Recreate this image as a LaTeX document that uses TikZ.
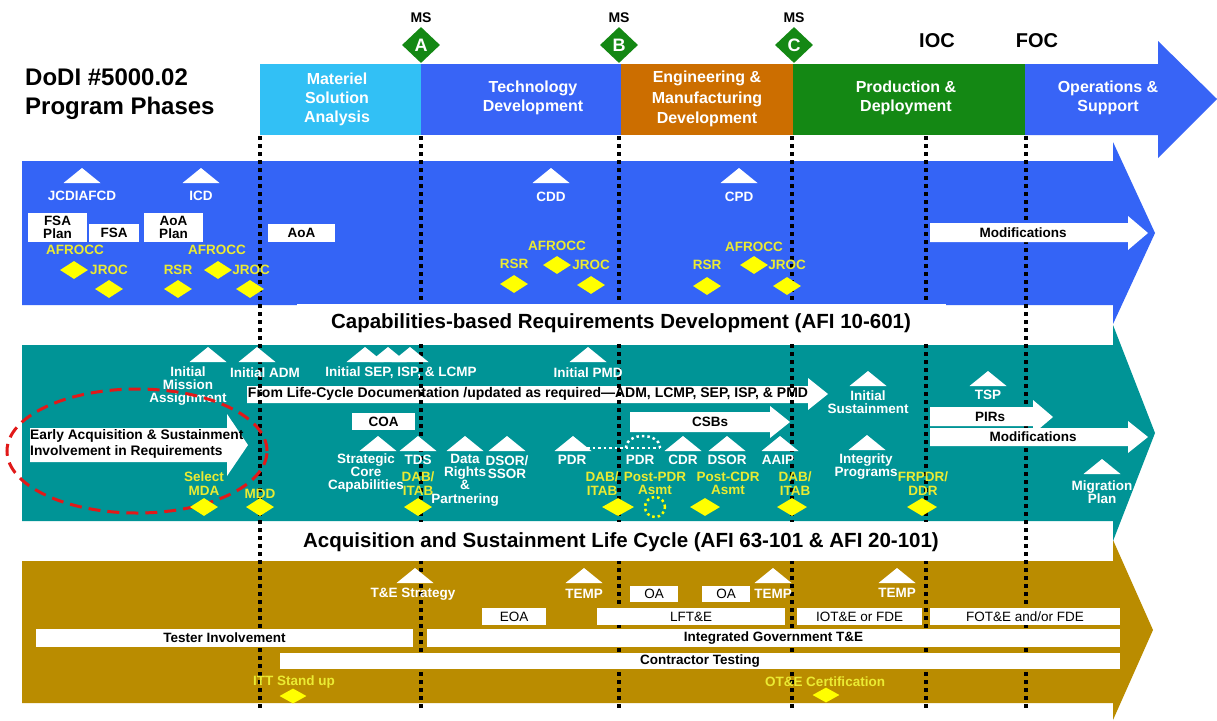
\documentclass[tikz,border=0pt]{standalone}
\usepackage{fontspec}
\setmainfont{Liberation Sans}
\usetikzlibrary{shapes.geometric}
\definecolor{phLB}{RGB}{50,192,245}
\definecolor{phB}{RGB}{56,100,246}
\definecolor{phO}{RGB}{204,110,0}
\definecolor{phG}{RGB}{20,136,20}
\definecolor{bandB}{RGB}{52,100,246}
\definecolor{bandT}{RGB}{0,148,150}
\definecolor{bandG}{RGB}{186,140,0}
\definecolor{ylwD}{RGB}{255,255,0}
\definecolor{ylwT}{RGB}{235,235,50}
\definecolor{redE}{RGB}{225,25,25}
\newcommand\tri[2]{\fill[white] ({#1-18.5},{#2+15}) -- (#1,#2) -- ({#1+18.5},{#2+15}) -- cycle;}
\newcommand\fsz[2]{\fontsize{#1}{#2}\selectfont}
\begin{document}
\begin{tikzpicture}[x=1pt,y=-1pt,
 lbl/.style={inner sep=0pt,align=center,font=\bfseries\fsz{13.5}{13.3}},
 wt/.style={lbl,text=white},
 yt/.style={lbl,text=ylwT},
 bt/.style={lbl,text=black},
 wbox/.style={fill=white,inner sep=0pt,align=center,text=black,font=\bfseries\fsz{13.5}{13.5}},
 rbox/.style={wbox,font=\fsz{13.5}{13.5}},
 ydia/.style={diamond,fill=ylwD,minimum width=28pt,minimum height=18pt,inner sep=0pt},
 msd/.style={diamond,fill=phG,minimum width=38pt,minimum height=36pt,inner sep=0pt,text=white,font=\bfseries\fsz{18}{18}},
 vdots/.style={line width=3.5pt,dash pattern=on 4pt off 4pt,black},
 phase/.style={inner sep=0pt,align=center,text=white,font=\bfseries\fsz{16}{19}},
 wdots/.style={white,line width=2.5pt,dash pattern=on 2.5pt off 3pt},
 bandtitle/.style={inner sep=0pt,font=\bfseries\fsz{20.5}{20.5}},
]
\useasboundingbox (0,0) rectangle (1217,720);
\fill[white] (0,0) rectangle (1217,720);

% ---------- bands ----------
\fill[bandG] (22,561) -- (1113,561) -- (1113,540) -- (1153,630) -- (1113,720) -- (1113,703) -- (22,703) -- cycle;
\fill[bandT] (22,345) -- (1113,345) -- (1113,325) -- (1155,433) -- (1113,541) -- (1113,521) -- (22,521) -- cycle;
\fill[bandB] (22,161) -- (1113,161) -- (1113,142) -- (1155,233) -- (1113,324) -- (1113,305) -- (22,305) -- cycle;

% ---------- phase bar ----------
\fill[phLB] (260,64) rectangle (421,135);
\fill[phB] (421,64) rectangle (621,135);
\fill[phO] (621,64) rectangle (793,135);
\fill[phG] (793,64) rectangle (1025,135);
\fill[phB] (1025,64) -- (1158,64) -- (1158,41) -- (1217,99) -- (1158,158) -- (1158,135) -- (1025,135) -- cycle;
\node[phase] (pMSA) at (337,99) {Materiel\\Solution\\Analysis};
\node[phase] (pTD) at (533,98) {Technology\\Development};
\node[phase,font=\bfseries\fsz{16}{20.5}] (pEMD) at (707,99) {Engineering \&\\Manufacturing\\Development};
\node[phase] (pPD) at (906,98) {Production \&\\Deployment};
\node[phase] (pOS) at (1108,98) {Operations \&\\Support};

\node[msd] (msA) at (421,45) {A};
\node[msd] (msB) at (619,45) {B};
\node[msd] (msC) at (794,45) {C};
\node[bt,font=\bfseries\fsz{14}{14}] (msAt) at (421,18) {MS};
\node[bt,font=\bfseries\fsz{14}{14}] (msBt) at (619,18) {MS};
\node[bt,font=\bfseries\fsz{14}{14}] (msCt) at (794,18) {MS};
\node[inner sep=0pt,font=\bfseries\fsz{20}{20}] (ioc) at (937,41) {IOC};
\node[inner sep=0pt,font=\bfseries\fsz{20}{20}] (foc) at (1037,41) {FOC};
\node[anchor=west,align=left,inner sep=0pt,font=\bfseries\fsz{24}{29}] (title) at (25,94) {DoDI \#5000.02\\Program Phases};

% ---------- blue band boxes ----------
\node[wbox,minimum width=59pt,minimum height=29pt] (fsaP) at (57.5,227.5) {FSA\\Plan};
\node[wbox,minimum width=50pt,minimum height=18pt] (fsa) at (114,233) {FSA};
\node[wbox,minimum width=59pt,minimum height=29pt] (aoaP) at (173.5,227.5) {AoA\\Plan};
\node[wbox,minimum width=67pt,minimum height=18pt] (aoa) at (301.5,233) {AoA};

% ---------- teal band white shapes ----------
\fill[white] (247,386) -- (808,386) -- (808,378) -- (828,394) -- (808,410) -- (808,403) -- (247,403) -- cycle;
\fill[white] (30,428) -- (227,428) -- (227,414) -- (248,445) -- (227,476) -- (227,462) -- (30,462) -- cycle;
\fill[white] (630,412) -- (770,412) -- (770,406) -- (790,422) -- (770,438) -- (770,432) -- (630,432) -- cycle;
\node[wbox,minimum width=63pt,minimum height=17pt] (coa) at (383.5,421.5) {COA};

% ---------- dotted milestone lines ----------
\coordinate (t1) at (260,136); \coordinate (b1) at (260,708);
\coordinate (t2) at (421,136); \coordinate (b2) at (421,708);
\coordinate (t3) at (619,136); \coordinate (b3) at (619,708);
\coordinate (t4) at (792,136); \coordinate (b4) at (792,708);
\coordinate (t5) at (926,136); \coordinate (b5) at (926,708);
\coordinate (t6) at (1026,136); \coordinate (b6) at (1026,708);
\draw[vdots] (t1) -- (b1);
\draw[vdots] (t2) -- (b2);
\draw[vdots] (t3) -- (b3);
\draw[vdots] (t4) -- (b4);
\draw[vdots] (t5) -- (b5);
\draw[vdots] (t6) -- (b6);

% ---------- band title boxes ----------
\fill[white] (297,303.5) rectangle (946,344);
\fill[white] (280,522) rectangle (963,560.5);
\node[bandtitle] (capT) at (621,323) {Capabilities-based Requirements Development (AFI 10-601)};
\node[bandtitle] (acqT) at (621,542) {Acquisition and Sustainment Life Cycle (AFI 63-101 \& AFI 20-101)};

% ---------- right-side arrows ----------
\fill[white] (930,223) -- (1128,223) -- (1128,216) -- (1148,233) -- (1128,250) -- (1128,242) -- (930,242) -- cycle;
\node[bt] (modB) at (1023,233) {Modifications};
\fill[white] (930,407) -- (1033,407) -- (1033,400) -- (1053,417) -- (1033,434) -- (1033,426) -- (930,426) -- cycle;
\node[bt] (pirs) at (990,417) {PIRs};
\fill[white] (930,428) -- (1128,428) -- (1128,421) -- (1148,437) -- (1128,453) -- (1128,446) -- (930,446) -- cycle;
\node[bt] (modT) at (1033,437) {Modifications};

% ---------- gold band boxes ----------
\node[wbox,minimum width=377pt,minimum height=18pt] (tester) at (224.5,638) {Tester Involvement};
\node[wbox,minimum width=693pt,minimum height=18pt] (igte) at (773.5,638) {Integrated Government T\&E};
\node[wbox,minimum width=840pt,minimum height=16pt] (ctest) at (700,661) {Contractor Testing};
\node[rbox,minimum width=64pt,minimum height=17pt] (eoa) at (514,616.5) {EOA};
\node[rbox,minimum width=188pt,minimum height=17pt] (lfte) at (691,616.5) {LFT\&E};
\node[rbox,minimum width=125pt,minimum height=17pt] (iote) at (859.5,616.5) {IOT\&E or FDE};
\node[rbox,minimum width=190pt,minimum height=17pt] (fote) at (1025,616.5) {FOT\&E and/or FDE};
\node[rbox,minimum width=48pt,minimum height=16pt] (oa1) at (654,594) {OA};
\node[rbox,minimum width=48pt,minimum height=16pt] (oa2) at (726,594) {OA};

% ---------- blue band items ----------
\tri{82}{168} \tri{201}{168} \tri{551}{168} \tri{739}{168}
\node[wt] (jcd) at (82,196) {JCDIAFCD};
\node[wt] (icd) at (201,196) {ICD};
\node[wt] (cdd) at (551,197) {CDD};
\node[wt] (cpd) at (739,197) {CPD};
\node[yt] (af1) at (75,250) {AFROCC};
\node[ydia] (dA1) at (74,270) {};
\node[yt] (jr1) at (109,270) {JROC};
\node[ydia] (dA2) at (109,289) {};
\node[yt] (rs1) at (178,270) {RSR};
\node[ydia] (dA3) at (178,289) {};
\node[yt] (af2) at (217,250) {AFROCC};
\node[ydia] (dA4) at (218,270) {};
\node[yt] (jr2) at (251,270) {JROC};
\node[ydia] (dA5) at (250,289) {};
\node[yt] (af3) at (557,246) {AFROCC};
\node[yt] (rs2) at (514,264) {RSR};
\node[ydia] (dB1) at (557,265) {};
\node[yt] (jr3) at (591,265) {JROC};
\node[ydia] (dB2) at (514,284) {};
\node[ydia] (dB3) at (591,285) {};
\node[yt] (af4) at (754,247) {AFROCC};
\node[yt] (rs3) at (707,265) {RSR};
\node[ydia] (dC1) at (754,265) {};
\node[yt] (jr4) at (787,265) {JROC};
\node[ydia] (dC2) at (707,286) {};
\node[ydia] (dC3) at (787,286) {};

% ---------- teal band items ----------
\tri{208}{347} \tri{257}{347} \tri{365}{347} \tri{388}{347} \tri{410}{347} \tri{588}{347}
\node[wt] (ima) at (188,386) {Initial\\Mission\\Assignment};
\node[wt] (iadm) at (265,373) {Initial ADM};
\node[wt] (isep) at (401,373) {Initial SEP, ISP, \& LCMP};
\node[wt] (ipmd) at (588,373) {Initial PMD};
\node[bt,font=\bfseries\fsz{14}{14}] (lcT) at (528,394) {From Life-Cycle Documentation /updated as required—ADM, LCMP, SEP, ISP, \& PMD};
\node[bt,anchor=west,align=left,font=\bfseries\fsz{13.8}{16}] (eaT) at (30,444) {Early Acquisition \& Sustainment\\Involvement in Requirements};
\node[bt] (csb) at (710,422) {CSBs};
\node[ellipse,draw=redE,line width=3pt,dash pattern=on 12pt off 7pt,minimum width=260pt,minimum height=124pt,inner sep=0pt] (eaEll) at (137,451) {};

\node[yt] (smda) at (204,483.5) {Select\\MDA};
\node[ydia,minimum width=28pt] (dT1) at (204,507) {};
\node[yt] (mdd) at (260,494) {MDD};
\node[ydia] (dT2) at (260,507) {};

\tri{378}{436} \tri{418}{436} \tri{465}{436} \tri{507}{436} \tri{573}{436} \tri{683}{436} \tri{727}{436} \tri{780}{436}
\node[wt] (scc) at (366,473) {Strategic\\Core\\Capabilities};
\node[wt] (tds) at (418,460) {TDS};
\node[yt] (dab1) at (418,483.5) {DAB/\\ITAB};
\node[ydia] (dT3) at (418,507) {};
\node[wt] (drp) at (465,480) {Data\\Rights\\\&\\Partnering};
\node[wt] (dsor1) at (507,467) {DSOR/\\SSOR};
\node[wt] (pdr1) at (572,460) {PDR};
\coordinate (pdrL) at (587,448);
\coordinate (pdrR) at (660,448);
\coordinate (arcL) at (626,448);
\draw[wdots] (pdrL) -- (pdrR);
\draw[wdots] (arcL) .. controls (626,432) and (660,432) .. (pdrR);
\node[wt] (pdr2) at (640,460) {PDR};
\node[yt] (ppdr) at (655,483.5) {Post-PDR\\Asmt};
\node[circle,draw=ylwD,line width=2.5pt,dash pattern=on 2.5pt off 3pt,minimum size=20pt,inner sep=0pt] (dPP) at (655,507) {};
\node[yt] (dab2) at (602,483.5) {DAB/\\ITAB};
\node[ydia,minimum width=32pt] (dT4) at (618,507) {};
\node[wt] (cdr) at (683,460) {CDR};
\node[wt] (dsor2) at (727,460) {DSOR};
\node[yt] (pcdr) at (728,483.5) {Post-CDR\\Asmt};
\node[ydia,minimum width=30pt] (dT5) at (705,507) {};
\node[wt] (aaip) at (778,460) {AAIP};
\node[yt] (dab3) at (795,483.5) {DAB/\\ITAB};
\node[ydia,minimum width=30pt] (dT6) at (792,507) {};

\tri{868}{371} \tri{867}{435} \tri{988}{371} \tri{1102}{459}
\node[wt] (isus) at (868,402.5) {Initial\\Sustainment};
\node[wt] (intp) at (866,466.5) {Integrity\\Programs};
\node[yt] (frp) at (923,483.5) {FRPDR/\\DDR};
\node[ydia,minimum width=30pt] (dT7) at (922,507) {};
\node[wt] (tsp) at (988,395) {TSP};
\node[wt] (migp) at (1102,492) {Migration\\Plan};

% ---------- gold band items ----------
\tri{415}{568} \tri{584}{568} \tri{773}{568} \tri{897}{568}
\node[wt] (tes) at (413,594) {T\&E Strategy};
\node[wt] (temp1) at (584,594) {TEMP};
\node[wt] (temp2) at (773,594) {TEMP};
\node[wt] (temp3) at (897,593) {TEMP};
\node[yt] (itt) at (294,682) {ITT Stand up};
\node[ydia,minimum width=27pt,minimum height=15pt] (dG1) at (293,696) {};
\node[yt] (otec) at (825,682) {OT\&E Certification};
\node[ydia,minimum width=27pt,minimum height=15pt] (dG2) at (826,695) {};
\end{tikzpicture}
\end{document}
